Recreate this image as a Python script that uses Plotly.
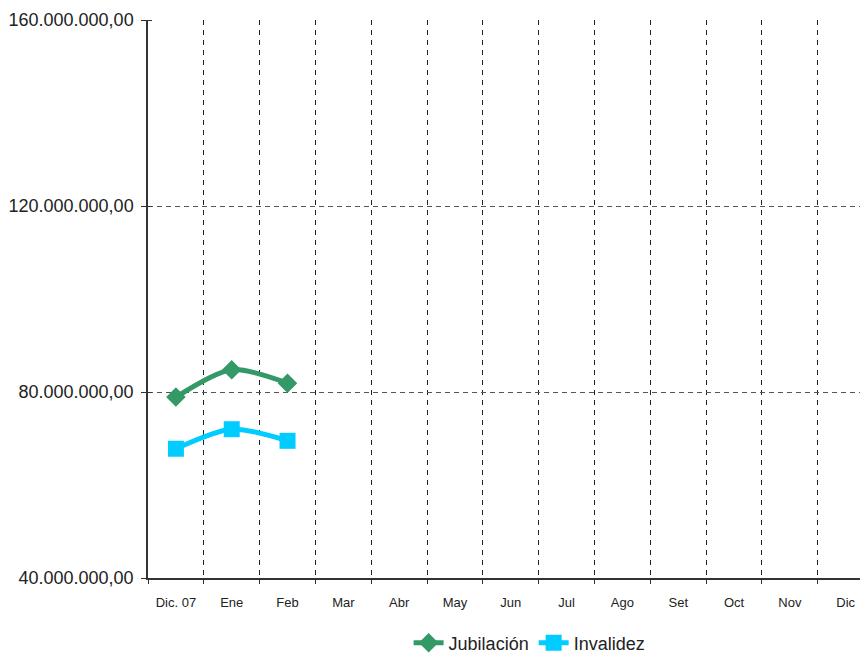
import plotly.graph_objects as go

months = ["Dic. 07", "Ene", "Feb", "Mar", "Abr", "May", "Jun", "Jul", "Ago", "Set", "Oct", "Nov", "Dic"]
jubilacion = [78.9e6, 84.8e6, 81.9e6]
invalidez = [67.8e6, 72.0e6, 69.5e6]

fig = go.Figure()
fig.add_trace(go.Scatter(
    x=months[:len(jubilacion)], y=jubilacion, name="Jubilación",
    mode="lines+markers", line=dict(color="#339966", width=5, shape="spline", smoothing=0.8),
    marker=dict(symbol="diamond", size=15, color="#339966")))
fig.add_trace(go.Scatter(
    x=months[:len(invalidez)], y=invalidez, name="Invalidez",
    mode="lines+markers", line=dict(color="#00CCFF", width=5, shape="spline", smoothing=0.8),
    marker=dict(symbol="square", size=16, color="#00CCFF")))

fig.update_layout(
    width=860, height=646,
    margin=dict(l=140, r=0, t=12, b=76, autoexpand=False),
    paper_bgcolor="white", plot_bgcolor="white",
    separators=",.",
    font=dict(family="Liberation Sans, Arial, sans-serif", color="#222"),
    showlegend=True,
    legend=dict(orientation="h", x=0.53, xanchor="center", y=-0.1165, yanchor="middle",
                font=dict(size=18, family="Liberation Sans, Arial"),
                tracegroupgap=0),
)
fig.update_xaxes(
    type="category", categoryorder="array", categoryarray=months,
    range=[-0.5, 12.4], tickson="boundaries",
    showgrid=True, gridcolor="#222", griddash="5px,5px", gridwidth=1,
    showline=True, linecolor="#333", linewidth=1.5,
    ticks="outside", ticklen=4, tickcolor="#333",
    ticklabelstandoff=12,
    tickfont=dict(size=13, family="Liberation Sans, Arial"),
    zeroline=False,
)
fig.update_yaxes(
    range=[40e6, 160e6], dtick=40e6, tick0=40e6, tickformat=",.2f",
    showgrid=True, gridcolor="#555", griddash="5px,4px", gridwidth=1,
    showline=True, linecolor="#333", linewidth=1.5,
    ticks="outside", ticklen=5, tickcolor="#333",
    ticklabelstandoff=4,
    minor=dict(ticks="inside", dtick=40e6, tick0=40e6, ticklen=4, tickcolor="#333", showgrid=False),
    tickfont=dict(size=18, family="Liberation Sans, Arial"),
    zeroline=False,
)
fig.write_html("out.html")
